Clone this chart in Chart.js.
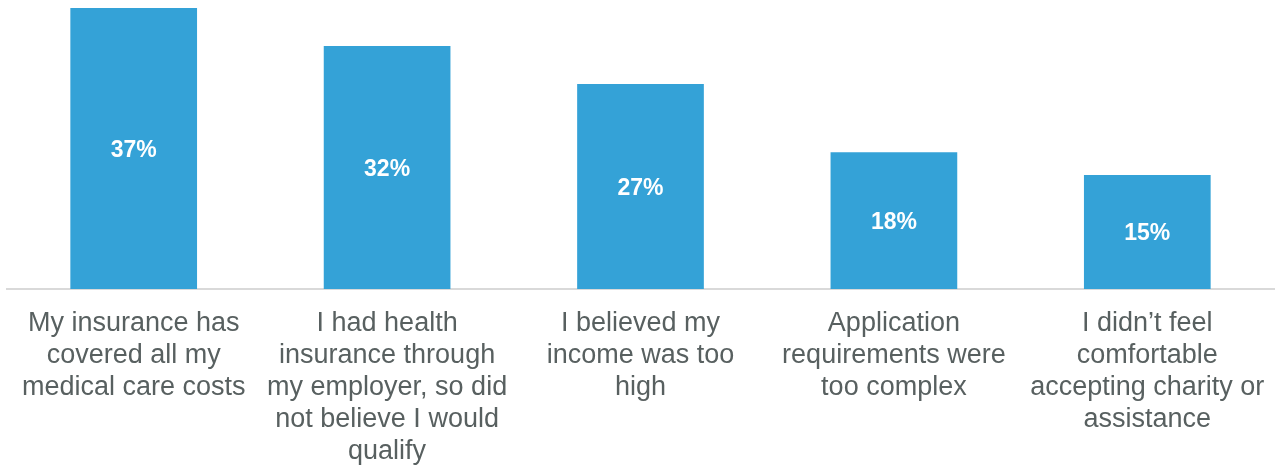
<!DOCTYPE html>
<html>
<head>
<meta charset="utf-8">
<script src="https://cdn.jsdelivr.net/npm/chart.js@4"></script>
<style>
  html, body { margin: 0; padding: 0; background: #fff; }
  #wrap { width: 1278px; height: 465px; }
</style>
</head>
<body>
<div id="wrap"><canvas id="myChart"></canvas></div>
<script>
// categories (split into lines as in the picture)
const categories = [
  ["My insurance has", "covered all my", "medical care costs"],
  ["I had health", "insurance through", "my employer, so did", "not believe I would", "qualify"],
  ["I believed my", "income was too", "high"],
  ["Application", "requirements were", "too complex"],
  ["I didn\u2019t feel", "comfortable", "accepting charity or", "assistance"]
];
const percents = [37, 32, 27, 18, 15];

// writes the value in the middle of each bar
const barLabels = {
  id: "barLabels",
  afterDatasetsDraw(chart) {
    const c = chart.ctx;
    const meta = chart.getDatasetMeta(0);
    c.save();
    c.fillStyle = "#ffffff";
    c.font = "bold 23px 'Liberation Sans', Arial, sans-serif";
    c.textAlign = "center";
    c.textBaseline = "middle";
    meta.data.forEach((bar, i) => {
      const mid = (bar.y + bar.base) / 2;
      c.fillText(percents[i] + "%", bar.x, mid + 2);
    });
    c.restore();
  }
};

const ctx = document.getElementById("myChart");
new Chart(ctx, {
  type: "bar",
  data: {
    labels: categories,
    datasets: [{
      data: percents,
      backgroundColor: "#34A2D7",
      categoryPercentage: 1,
      barPercentage: 0.5
    }]
  },
  options: {
    responsive: true,
    maintainAspectRatio: false,
    animation: false,
    layout: { padding: { left: 7, right: 4, top: 8, bottom: 0 } },
    plugins: {
      legend: { display: false },
      tooltip: { enabled: false }
    },
    scales: {
      x: {
        afterFit(scale) {
          scale.height = 176;
          scale.paddingLeft = 0;
          scale.paddingRight = 0;
        },
        grid: { display: false, drawTicks: false },
        border: { display: true, color: "#d9d9d9", width: 2 },
        ticks: {
          color: "#586060",
          autoSkip: false,
          maxRotation: 0,
          padding: 19,
          font: { family: "'Liberation Sans', Arial, sans-serif", size: 27, lineHeight: "32px" }
        }
      },
      y: {
        display: false,
        min: 0,
        max: 37
      }
    }
  },
  plugins: [barLabels]
});
</script>
</body>
</html>
